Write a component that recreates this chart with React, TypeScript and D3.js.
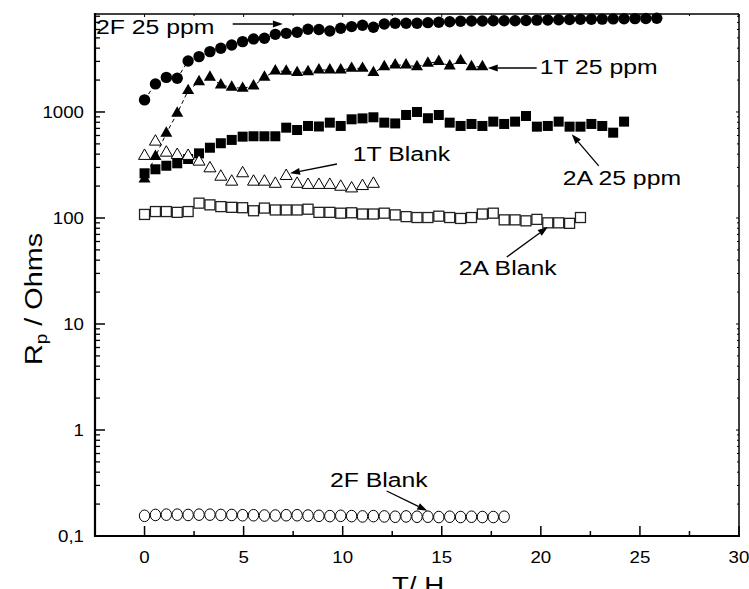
import React from 'react';
import * as d3 from 'd3';

// time axis (hours) shared by all series, paired by index
const hours = [0, 0.55, 1.1, 1.65, 2.2, 2.75, 3.3, 3.85, 4.4, 4.95, 5.5, 6.05, 6.6, 7.15, 7.7, 8.25, 8.8, 9.35, 9.9, 10.45, 11.0, 11.55, 12.1, 12.65, 13.2, 13.75, 14.3, 14.85, 15.4, 15.95, 16.5, 17.05, 17.6, 18.15, 18.7, 19.25, 19.8, 20.35, 20.9, 21.45, 22.0, 22.55, 23.1, 23.65, 24.2, 24.75, 25.3, 25.85];

const r2F25 = [1300, 1840, 2120, 2080, 3030, 3330, 3710, 3990, 4290, 4610, 4890, 4960, 5400, 5520, 5650, 6030, 6000, 5800, 6170, 6390, 6580, 6300, 6760, 6870, 6870, 6870, 6960, 7020, 7110, 7170, 7210, 7210, 7260, 7260, 7260, 7300, 7350, 7380, 7420, 7450, 7480, 7500, 7520, 7550, 7580, 7600, 7620, 7650];
const r1T25 = [233, 380, 630, 973, 1590, 1930, 2125, 1800, 1710, 1670, 1760, 2125, 2440, 2420, 2350, 2400, 2490, 2490, 2490, 2580, 2580, 2350, 2670, 2770, 2770, 2670, 2880, 2990, 2720, 3050, 2670, 2670];
const r2A25 = [264, 288, 311, 328, 360, 407, 460, 507, 545, 585, 590, 590, 590, 711, 676, 738, 730, 793, 738, 853, 870, 891, 793, 780, 937, 1000, 873, 937, 793, 738, 771, 738, 811, 771, 811, 916, 727, 738, 811, 727, 727, 771, 738, 638, 811];
const r1TBlank = [385, 525, 413, 393, 385, 340, 294, 245, 220, 264, 220, 220, 210, 249, 210, 205, 205, 205, 197, 190, 200, 210];
const r2ABlank = [108, 115, 115, 113, 115, 138, 133, 128, 126, 125, 117, 124, 119, 119, 119, 121, 113, 113, 111, 112, 109, 109, 111, 107, 103, 101, 101, 104, 101, 99, 101, 109, 111, 96, 96, 94, 97, 90, 90, 89, 101];
const r2FBlank = [0.155, 0.158, 0.159, 0.159, 0.158, 0.159, 0.159, 0.158, 0.158, 0.157, 0.157, 0.156, 0.156, 0.157, 0.157, 0.156, 0.155, 0.154, 0.155, 0.154, 0.153, 0.154, 0.153, 0.152, 0.153, 0.152, 0.152, 0.151, 0.152, 0.151, 0.152, 0.151, 0.151, 0.152];

const xTicks = [0, 5, 10, 15, 20, 25, 30];
const xMinorTicks = [2.5, 7.5, 12.5, 17.5, 22.5, 27.5];
const yTicks = [0.1, 1, 10, 100, 1000];
const yTickLabels = ['0,1', '1', '10', '100', '1000'];

// annotations in data coordinates: label, text anchor (t, v), arrow from -> to
const annLabels = ['2F 25 ppm', '1T 25 ppm', '2A 25 ppm', '1T Blank', '2A Blank', '2F Blank'];
const annText = [[-2.45, 5445], [19.94, 2280], [21.1, 205], [10.51, 345], [15.86, 29], [9.36, 0.29]];
const annFrom = [[4.45, 6760], [19.79, 2600], [22.92, 310], [9.71, 323], [18.28, 42.8], [12.22, 0.266]];
const annTo = [[6.98, 6760], [17.32, 2600], [21.56, 617], [7.34, 264], [20.35, 82.2], [14.27, 0.173]];

const FONT = "'Liberation Sans', Arial, Helvetica, sans-serif";

function Txt({ x, y, size, anchor = 'start', sx = 1.15, children }: any) {
  return (
    <g transform={`translate(${x},${y}) scale(${sx},1)`}>
      <text textAnchor={anchor} fontSize={size} fontFamily={FONT} fill="#000">{children}</text>
    </g>
  );
}

function tri(cx: number, cy: number, s: number) {
  const h = s * 0.87;
  return `M${cx},${cy - (2 * h) / 3}L${cx + s / 2},${cy + h / 3}L${cx - s / 2},${cy + h / 3}Z`;
}

export default function App() {
  const L = 95, R = 739, T = 14, B = 536;
  const x = d3.scaleLinear().domain([-2.5, 30]).range([L, R]);
  const y = d3.scaleLog().domain([0.1, 8400]).range([B, T]);

  const yMinor: number[] = [];
  [0.1, 1, 10, 100, 1000].forEach((d) => {
    for (let k = 2; k <= 9; k++) {
      const v = d * k;
      if (v < 8400) yMinor.push(v);
    }
  });

  const pts = (vals: number[]) => vals.map((v, i) => [x(hours[i]), y(v)] as [number, number]);
  const line = d3.line();

  const p2F25 = pts(r2F25);
  const p1T25 = pts(r1T25);
  const p2A25 = pts(r2A25);
  const p1TB = pts(r1TBlank);
  const p2AB = pts(r2ABlank);
  const p2FB = pts(r2FBlank);

  const arrow = (i: number) => {
    const x1 = x(annFrom[i][0]), y1 = y(annFrom[i][1]);
    const x2 = x(annTo[i][0]), y2 = y(annTo[i][1]);
    const a = Math.atan2(y2 - y1, x2 - x1);
    const len = 10, w = 3.5;
    const bx = x2 - len * Math.cos(a), by = y2 - len * Math.sin(a);
    const p1 = [bx + w * Math.sin(a), by - w * Math.cos(a)];
    const p2 = [bx - w * Math.sin(a), by + w * Math.cos(a)];
    return (
      <g key={'a' + i}>
        <line x1={x1} y1={y1} x2={bx} y2={by} stroke="#000" strokeWidth={1.3} />
        <path d={`M${x2},${y2}L${p1[0]},${p1[1]}L${p2[0]},${p2[1]}Z`} fill="#000" />
      </g>
    );
  };

  return (
    <svg width={749} height={589} style={{ position: 'absolute', left: 0, top: 0, background: '#fff' }}>
      <rect x={0} y={0} width={749} height={589} fill="#fff" />
      {/* frame */}
      <line x1={L} y1={T} x2={R} y2={T} stroke="#000" strokeWidth={1.5} />
      <line x1={R} y1={T} x2={R} y2={B} stroke="#000" strokeWidth={1.5} />
      <line x1={L} y1={T - 1} x2={L} y2={B + 1} stroke="#000" strokeWidth={2.2} />
      <line x1={L - 1} y1={B} x2={R + 1} y2={B} stroke="#000" strokeWidth={2.2} />

      {/* x ticks */}
      {xTicks.map((t) => (
        <g key={'xt' + t}>
          <line x1={x(t)} x2={x(t)} y1={B} y2={B - 10} stroke="#000" strokeWidth={1.5} />
          <line x1={x(t)} x2={x(t)} y1={T} y2={T + 3} stroke="#000" strokeWidth={1} />
          <Txt x={x(t)} y={B + 27} size={17} sx={1.1} anchor="middle">{String(t)}</Txt>
        </g>
      ))}
      {xMinorTicks.map((t) => (
        <g key={'xm' + t}>
          <line x1={x(t)} x2={x(t)} y1={B} y2={B - 5} stroke="#000" strokeWidth={1.5} />
          <line x1={x(t)} x2={x(t)} y1={T} y2={T + 2} stroke="#000" strokeWidth={1} />
        </g>
      ))}

      {/* y ticks */}
      {yTicks.map((v, i) => (
        <g key={'yt' + v}>
          <line x1={L} x2={L + 10} y1={y(v)} y2={y(v)} stroke="#000" strokeWidth={1.5} />
          <line x1={R} x2={R - 3} y1={y(v)} y2={y(v)} stroke="#000" strokeWidth={1} />
          <Txt x={84} y={y(v) + 6} size={17} sx={1.1} anchor="end">{yTickLabels[i]}</Txt>
        </g>
      ))}
      {yMinor.map((v) => (
        <g key={'ym' + v}>
          <line x1={L} x2={L + 5} y1={y(v)} y2={y(v)} stroke="#000" strokeWidth={1.3} />
          <line x1={R} x2={R - 2} y1={y(v)} y2={y(v)} stroke="#000" strokeWidth={1} />
        </g>
      ))}

      {/* dashed connectors */}
      <path d={line(p2F25) || ''} fill="none" stroke="#000" strokeWidth={1} strokeDasharray="4,3" />
      <path d={line(p1T25) || ''} fill="none" stroke="#000" strokeWidth={1} strokeDasharray="4,3" />

      {/* 2F 25 ppm: filled circles */}
      {p2F25.map(([cx, cy], i) => <circle key={'c' + i} cx={cx} cy={cy} r={5.7} fill="#000" />)}
      {/* 1T 25 ppm: filled triangles */}
      {p1T25.map(([cx, cy], i) => <path key={'t' + i} d={tri(cx, cy, 12)} fill="#000" />)}
      {/* 2A 25 ppm: filled squares */}
      {p2A25.map(([cx, cy], i) => <rect key={'s' + i} x={cx - 5} y={cy - 5} width={10} height={10} fill="#000" />)}
      {/* 1T Blank: open triangles */}
      {p1TB.map(([cx, cy], i) => <path key={'ot' + i} d={tri(cx, cy, 12)} fill="#fff" stroke="#000" strokeWidth={1} />)}
      {/* 2A Blank: open squares */}
      {p2AB.map(([cx, cy], i) => <rect key={'os' + i} x={cx - 5} y={cy - 5} width={10} height={10} fill="#fff" stroke="#222" strokeWidth={1.3} />)}
      {/* 2F Blank: open circles */}
      {p2FB.map(([cx, cy], i) => <ellipse key={'oc' + i} cx={cx} cy={cy} rx={5.2} ry={5.8} fill="#fff" stroke="#000" strokeWidth={1} />)}

      {/* annotations */}
      {annLabels.map((lab, i) => (
        <g key={'an' + i}>
          <Txt x={x(annText[i][0])} y={y(annText[i][1])} size={21} sx={1.18}>{lab}</Txt>
          {arrow(i)}
        </g>
      ))}

      {/* axis titles */}
      <g transform={`translate(42,299) rotate(-90) scale(1.2,1)`}>
        <text textAnchor="middle" fontSize={24} fontFamily={FONT} fill="#000">
          R<tspan fontSize={16} dy={5}>p</tspan><tspan dy={-5}> / Ohms</tspan>
        </text>
      </g>
      <Txt x={418} y={594} size={24} sx={1.15} anchor="middle">T/ H</Txt>
    </svg>
  );
}
